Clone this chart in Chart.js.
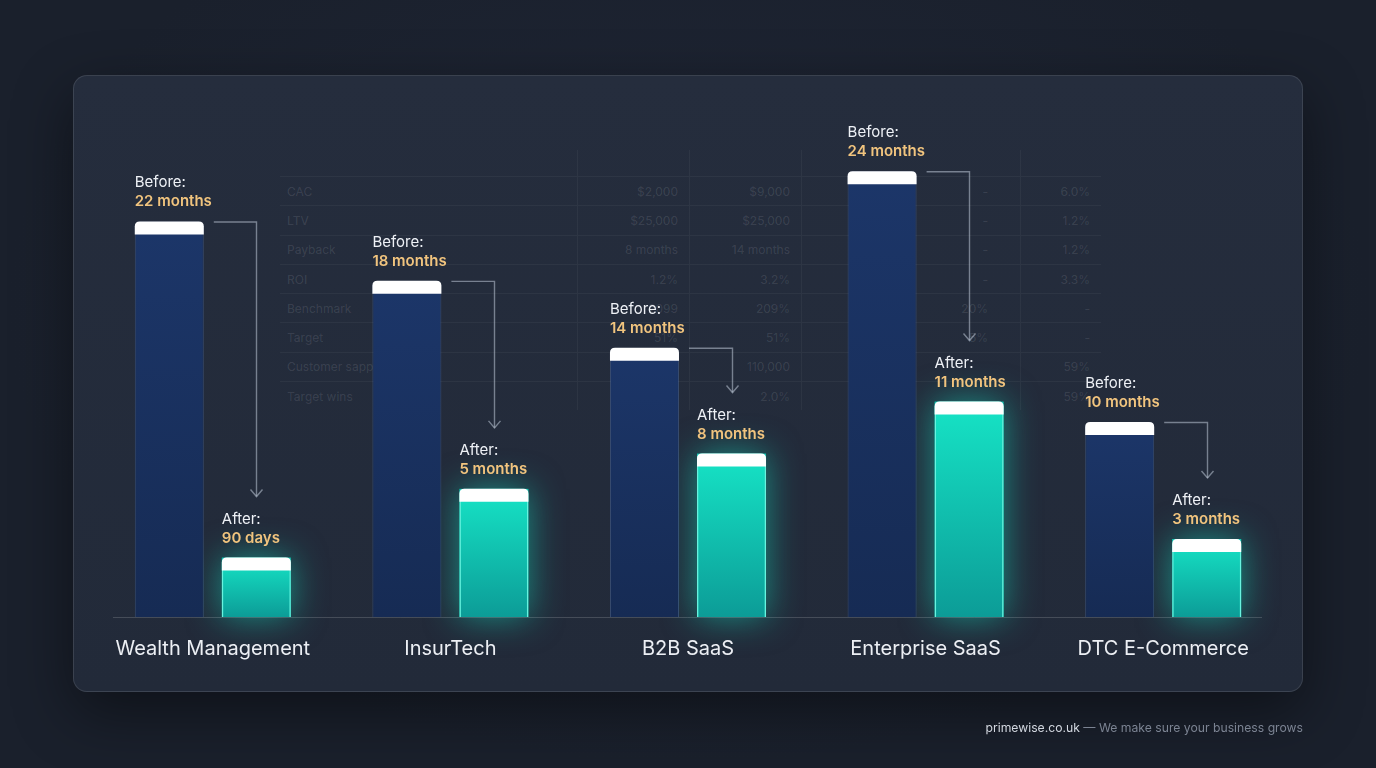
<!DOCTYPE html>
<html>
<head>
<meta charset="utf-8">
<script src="https://cdn.jsdelivr.net/npm/chart.js@4.4.1/dist/chart.umd.min.js"></script>
<style>
  html, body { margin:0; padding:0; width:1376px; height:768px; overflow:hidden; background:#1a202d; font-family: Inter, "Noto Sans", sans-serif; }
  #page { position:relative; width:1376px; height:768px; background: radial-gradient(ellipse at 50% 40%, #1f2636 0%, #1a202c 70%); }
  #panel { position:absolute; left:73px; top:75px; width:1228px; height:615px; border-radius:14px;
    background: linear-gradient(180deg, #252d3d 0%, #222a39 100%);
    border:1px solid rgba(255,255,255,0.11); box-shadow: 0 20px 60px rgba(0,0,0,0.45); }
  #bgtable { position:absolute; left:280px; top:150px; border-collapse:collapse; font-size:12px; color:rgba(255,255,255,0.11); }
  #bgtable td { height:28.3px; border-top:1px solid rgba(255,255,255,0.045); padding:0; text-align:right; }
  #bgtable tr.head td { height:26px; border-top:none; }
  #bgtable td.lab { text-align:left; padding-left:7px; width:290px; border-right:1px solid rgba(255,255,255,0.045); }
  #bgtable td.c1 { width:100px; padding-right:11px; border-right:1px solid rgba(255,255,255,0.045); }
  #bgtable td.c2 { width:100px; padding-right:11px; border-right:1px solid rgba(255,255,255,0.045); }
  #bgtable td.c3 { width:105px; padding-right:6px; }
  #bgtable td.c4 { width:75px; padding-right:32px; border-right:1px solid rgba(255,255,255,0.045); }
  #bgtable td.c5 { width:69px; padding-right:11px; }
  #chart { position:absolute; left:0; top:0; }
  #footer { position:absolute; right:73px; top:720px; font-size:12.2px; color:#7b8392; }
  #footer b { font-weight:400; color:#d3d8e0; }
</style>
</head>
<body>
<div id="page">
  <div id="panel"></div>
  <table id="bgtable"></table>
  <canvas id="chart" width="1376" height="768"></canvas>
  <div id="footer"><b>primewise.co.uk</b> — We make sure your business grows</div>
</div>
<script>
// ---- data ----
const categories = ['Wealth Management', 'InsurTech', 'B2B SaaS', 'Enterprise SaaS', 'DTC E-Commerce'];
// bar heights as drawn in the reference (months scale)
const beforeHeights = [21.3, 18.1, 14.5, 24.0, 10.5];
const afterHeights  = [3.2, 6.9, 8.8, 11.6, 4.2];
const beforeLabels = ['22 months', '18 months', '14 months', '24 months', '10 months'];
const afterLabels  = ['90 days', '5 months', '8 months', '11 months', '3 months'];
const yMax = 28;

// faint background table (decoration)
const tableRows = ['CAC', 'LTV', 'Payback', 'ROI', 'Benchmark', 'Target', 'Customer sapp', 'Target wins'];
const tableCol1 = ['$2,000', '$25,000', '8 months', '1.2%', '2099', '51%', '110,000', '2.0%'];
const tableCol2 = ['$9,000', '$25,000', '14 months', '3.2%', '209%', '51%', '110,000', '2.0%'];
const tableCol3 = ['', '', '8 months', '', '', '', '10,000', ''];
const tableCol4 = ['-', '-', '-', '-', '20%', '5%', '', ''];
const tableCol5 = ['6.0%', '1.2%', '1.2%', '3.3%', '-', '-', '59%', '59%'];

(function buildTable(){
  const t = document.getElementById('bgtable');
  let html = '<tr class="head"><td class="lab"></td><td class="c1"></td><td class="c2"></td><td class="c3"></td><td class="c4"></td><td class="c5"></td></tr>';
  tableRows.forEach((r, i) => {
    html += `<tr><td class="lab">${r}</td><td class="c1">${tableCol1[i]}</td><td class="c2">${tableCol2[i]}</td><td class="c3">${tableCol3[i]}</td><td class="c4">${tableCol4[i]}</td><td class="c5">${tableCol5[i]}</td></tr>`;
  });
  t.innerHTML = html;
})();

const FONT = 'Inter, "Noto Sans", sans-serif';

function barGrad(ctx, top, bottom, fallback) {
  const ch = ctx.chart, ca = ch.chartArea, ys = ch.scales.y;
  if (!ca || !ys || ctx.parsed == null) return fallback;
  const yTop = ys.getPixelForValue(ctx.parsed.y);
  const g = ch.ctx.createLinearGradient(0, yTop, 0, ca.bottom);
  g.addColorStop(0, top); g.addColorStop(1, bottom);
  return g;
}
const navyGrad = (ctx) => barGrad(ctx, '#1c3669', '#162b54', '#1a3264');
const tealGrad = (ctx) => barGrad(ctx, '#16e4c6', '#0c9c97', '#14d8bd');

const decor = {
  id: 'decor',
  beforeDatasetsDraw(chart) {
    const c = chart.ctx;
    chart.getDatasetMeta(1).data.forEach(b => {
      c.save();
      c.shadowColor = 'rgba(20,225,195,0.55)'; c.shadowBlur = 34;
      c.fillStyle = 'rgba(20,200,180,1)';
      c.fillRect(b.x - b.width / 2, b.y, b.width, b.base - b.y);
      c.restore();
    });
  },
  afterDatasetsDraw(chart) {
    const c = chart.ctx;
    const ca = chart.chartArea;
    const before = chart.getDatasetMeta(0).data;
    const after = chart.getDatasetMeta(1).data;
    // baseline
    c.save();
    c.strokeStyle = 'rgba(255,255,255,0.16)'; c.lineWidth = 1;
    c.beginPath(); c.moveTo(ca.left + 19, ca.bottom + 0.5); c.lineTo(ca.right - 20, ca.bottom + 0.5); c.stroke();
    c.restore();

    const cap = (b) => {
      const l = b.x - b.width / 2, w = b.width, t = b.y, h = 13, r = 5;
      c.save();
      c.fillStyle = '#ffffff';
      c.beginPath();
      c.moveTo(l, t + h); c.lineTo(l, t + r); c.quadraticCurveTo(l, t, l + r, t);
      c.lineTo(l + w - r, t); c.quadraticCurveTo(l + w, t, l + w, t + r); c.lineTo(l + w, t + h);
      c.closePath(); c.fill();
      c.restore();
    };
    const label = (b, head, val) => {
      const l = b.x - b.width / 2;
      c.save();
      c.textAlign = 'left'; c.textBaseline = 'alphabetic';
      c.font = '400 15px ' + FONT; c.fillStyle = '#eef1f6';
      c.fillText(head, l, b.y - 34);
      c.font = '600 15px ' + FONT; c.fillStyle = '#f1c47e';
      c.fillText(val, l, b.y - 15);
      c.restore();
    };
    before.forEach((b, i) => {
      const a = after[i];
      cap(b); cap(a);
      label(b, 'Before:', beforeLabels[i]);
      label(a, 'After:', afterLabels[i]);
      // arrow
      const x0 = b.x + b.width / 2 + 10, y0 = b.y + 0.5;
      const x1 = Math.round(a.x) + 0.5, y1 = a.y - 61;
      c.save();
      c.strokeStyle = 'rgba(190,200,215,0.55)'; c.lineWidth = 1.4;
      c.beginPath(); c.moveTo(x0, y0); c.lineTo(x1, y0); c.lineTo(x1, y1); c.stroke();
      c.beginPath(); c.moveTo(x1 - 6, y1 - 7); c.lineTo(x1, y1); c.lineTo(x1 + 6, y1 - 7); c.stroke();
      c.restore();
    });
    // category labels
    const xs = chart.scales.x;
    c.save();
    c.font = '400 20px ' + FONT; c.fillStyle = '#eceff4';
    c.textAlign = 'center'; c.textBaseline = 'middle';
    categories.forEach((cat, i) => c.fillText(cat, xs.getPixelForValue(i), ca.bottom + 32));
    c.restore();
  }
};

new Chart(document.getElementById('chart'), {
  type: 'bar',
  data: {
    labels: categories,
    datasets: [
      { label: 'Before', data: beforeHeights, backgroundColor: navyGrad,
        borderColor: 'rgba(95,135,205,0.35)', borderWidth: 1,
        borderRadius: { topLeft: 5, topRight: 5, bottomLeft: 0, bottomRight: 0 }, borderSkipped: 'bottom' },
      { label: 'After', data: afterHeights, backgroundColor: tealGrad,
        borderColor: 'rgba(120,250,230,0.85)', borderWidth: 1.5,
        borderRadius: { topLeft: 5, topRight: 5, bottomLeft: 0, bottomRight: 0 }, borderSkipped: 'bottom' }
    ]
  },
  options: {
    responsive: false,
    devicePixelRatio: 1,
    animation: false,
    layout: { padding: { left: 94, right: 94, top: 97, bottom: 151 } },
    categoryPercentage: 0.7326,
    barPercentage: 0.793,
    plugins: { legend: { display: false }, tooltip: { enabled: false } },
    scales: {
      x: { display: false, offset: true },
      y: { display: false, min: 0, max: yMax }
    }
  },
  plugins: [decor]
});
</script>
</body>
</html>
